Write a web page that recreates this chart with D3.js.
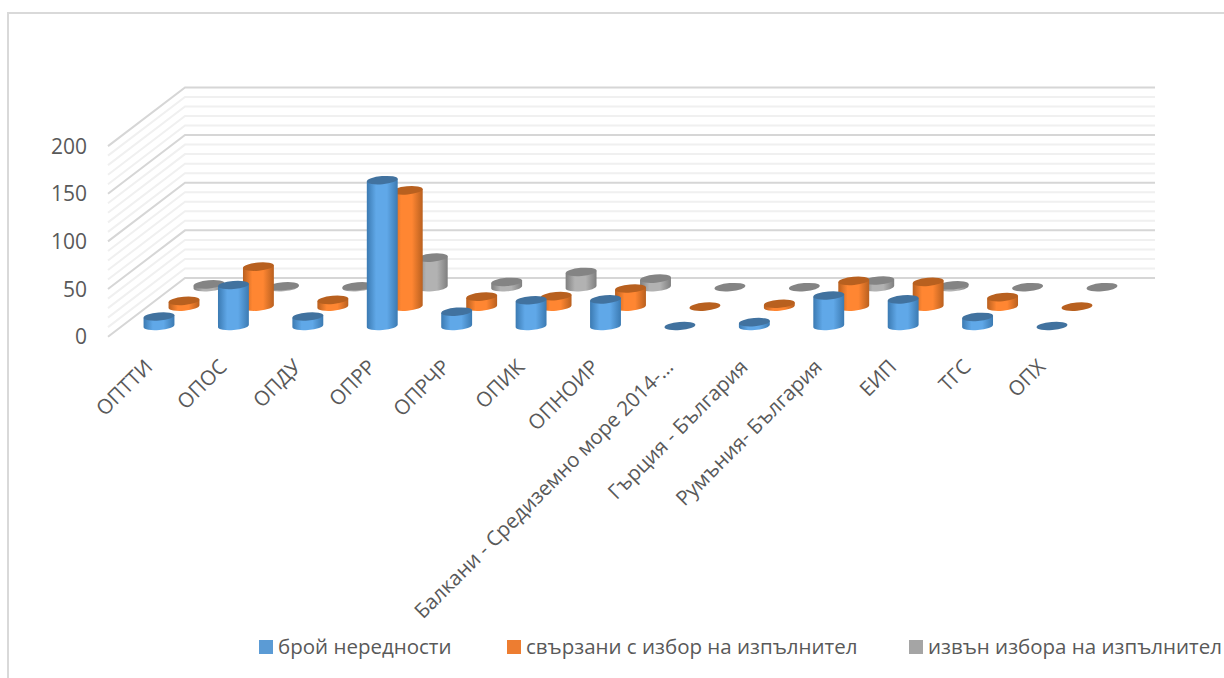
<!DOCTYPE html>
<html>
<head>
<meta charset="utf-8">
<script src="https://cdnjs.cloudflare.com/ajax/libs/d3/7.8.5/d3.min.js"></script>
<style>
  html, body { margin: 0; padding: 0; background: #fff; }
  svg { display: block; font-family: "Open Sans", sans-serif; }
</style>
</head>
<body>
<div id="chart"></div>
<script>
const categories = ["ОПТТИ", "ОПОС", "ОПДУ", "ОПРР", "ОПРЧР", "ОПИК", "ОПНОИР",
  "Балкани - Средиземно море 2014-…", "Гърция - България", "Румъния- България", "ЕИП", "ТГС", "ОПХ"];
const seriesNames = ["брой нередности", "свързани с избор на изпълнител", "извън избора на изпълнител"];
const broi = [10, 43, 10, 153, 15, 27, 28, 0, 4, 32, 28, 9.5, 0];
const svarzani = [6, 42, 7, 122, 10.5, 11, 19, 0, 3, 27, 26, 10, 0];
const izvan = [3, 1, 1, 31, 5.5, 16, 9, 0, 0, 7, 2, 0, 0];
const yTicks = [0, 50, 100, 150, 200];
const minorTicks = d3.range(0, 201, 10);

const colors = [
  {edge: "#3b7ab2", mid: "#60a8e8", top: "#41729f"},
  {edge: "#b9601f", mid: "#ff8632", top: "#b8601f"},
  {edge: "#7f7f7f", mid: "#b2b2b2", top: "#848484"}
];
const legendFill = ["#5b9bd5", "#ed7d31", "#a5a5a5"];

const svg = d3.select("#chart").append("svg")
  .attr("width", 1224)
  .attr("height", 678);

// outer frame, only top and left show in the picture
svg.append("path")
  .attr("d", "M8,678V13H1224")
  .attr("fill", "none")
  .attr("stroke", "#d9d9d9")
  .attr("stroke-width", 2);

const defs = svg.append("defs");
colors.forEach((c, i) => {
  const g = defs.append("linearGradient").attr("id", "side" + i);
  g.append("stop").attr("offset", "0%").attr("stop-color", c.edge);
  g.append("stop").attr("offset", "30%").attr("stop-color", c.mid);
  g.append("stop").attr("offset", "65%").attr("stop-color", c.mid);
  g.append("stop").attr("offset", "100%").attr("stop-color", c.edge);
});

// front floor line is y=336.7, back wall bottom is y=278
const front = {x: 108, y: 336.7};
const back = {x: 185, y: 278, right: 1155};

const yScale = d3.scaleLinear().domain([0, 200]).range([0, 190.6]);
const xScale = d3.scalePoint().domain(categories).range([159, 1052]);
// series sit one behind the other: sideways shift and floor height
const depthX = d3.scalePoint().domain(d3.range(3)).range([0, 50]);
const depthY = d3.scalePoint().domain(d3.range(3)).range([326, 287.2]);

// walls
const grid = svg.append("g").attr("fill", "none");
grid.selectAll("path")
  .data(minorTicks.slice().sort((a, b) => (a % 50 === 0) - (b % 50 === 0)))
  .join("path")
  .attr("d", v => `M${front.x},${front.y - yScale(v)}L${back.x},${back.y - yScale(v)}H${back.right}`)
  .attr("stroke", v => v % 50 === 0 ? "#d6d6d6" : "#f0f0f0")
  .attr("stroke-width", 2);

// value axis
const yAxisScale = d3.scaleLinear().domain([0, 200]).range([337, 146.4]);
svg.append("g")
  .attr("transform", "translate(87,0)")
  .call(d3.axisLeft(yAxisScale).tickValues(yTicks).tickSize(0).tickPadding(0))
  .call(g => g.select(".domain").remove())
  .selectAll("text")
  .attr("font-family", "'Open Sans', sans-serif")
  .attr("font-size", 21)
  .attr("fill", "#595959");

// category axis
const xAxis = d3.scalePoint().domain(categories).range([143, 1036]);
svg.append("g")
  .attr("transform", "translate(0,358)")
  .call(d3.axisBottom(xAxis).tickSize(0).tickPadding(0))
  .call(g => g.select(".domain").remove())
  .selectAll("text")
  .attr("font-family", "'Open Sans', sans-serif")
  .attr("font-size", 20.5)
  .attr("fill", "#595959")
  .attr("text-anchor", "end")
  .attr("dy", "0.7em")
  .attr("transform", "rotate(-45)");

// cylinders, back row first
const rx = 15.5, ry = 4.1, tilt = -5;
const dxEdge = rx * Math.cos(tilt * Math.PI / 180);
const dyEdge = rx * Math.sin(tilt * Math.PI / 180);

function sidePath(cx, baseY, topY) {
  return `M${cx - dxEdge},${baseY - dyEdge}` +
    `L${cx - dxEdge},${topY - dyEdge}` +
    `L${cx + dxEdge},${topY + dyEdge}` +
    `L${cx + dxEdge},${baseY + dyEdge}` +
    `A${rx},${ry} ${tilt} 0 1 ${cx - dxEdge},${baseY - dyEdge}Z`;
}

[izvan, svarzani, broi].forEach((values, k) => {
  const s = 2 - k;
  const row = svg.append("g");
  const bars = row.selectAll("g")
    .data(values.map((v, i) => ({
      v: v,
      cx: xScale(categories[i]) + depthX(s),
      base: depthY(s),
      top: depthY(s) - yScale(v)
    })))
    .join("g");
  bars.filter(d => d.v > 0).append("path")
    .attr("d", d => sidePath(d.cx, d.base, d.top))
    .attr("fill", `url(#side${s})`);
  bars.append("ellipse")
    .attr("rx", rx)
    .attr("ry", ry)
    .attr("transform", d => `translate(${d.cx},${d.top}) rotate(${tilt})`)
    .attr("fill", colors[s].top);
});

// legend
const legendX = [259, 507, 909];
const legend = svg.append("g").selectAll("g")
  .data(seriesNames)
  .join("g")
  .attr("transform", (d, i) => `translate(${legendX[i]},640)`);
legend.append("rect")
  .attr("width", 14)
  .attr("height", 14)
  .attr("fill", (d, i) => legendFill[i]);
legend.append("text")
  .attr("x", 19)
  .attr("y", 14)
  .attr("font-size", 20.5)
  .attr("fill", "#595959")
  .text(d => d);
</script>
</body>
</html>
